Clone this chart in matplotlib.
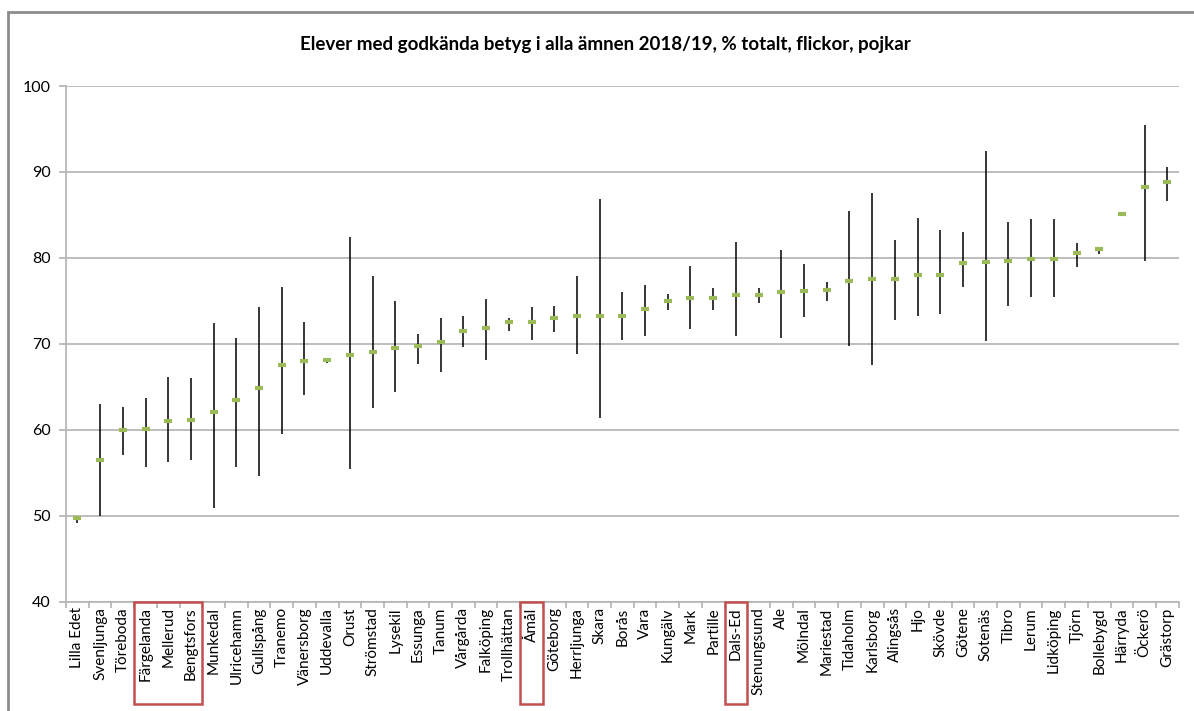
import numpy as np
import matplotlib
matplotlib.use("Agg")
from matplotlib import pyplot as plt
from matplotlib.patches import Rectangle
import matplotlib.transforms as mtransforms

plt.rcParams['font.family'] = ['Lato', 'DejaVu Sans']

kommuner = ['Lilla Edet', 'Svenljunga', 'Töreboda', 'Färgelanda', 'Mellerud', 'Bengtsfors',
            'Munkedal', 'Ulricehamn', 'Gullspång', 'Tranemo', 'Vänersborg', 'Uddevalla',
            'Orust', 'Strömstad', 'Lysekil', 'Essunga', 'Tanum', 'Vårgårda', 'Falköping',
            'Trollhättan', 'Åmål', 'Göteborg', 'Herrljunga', 'Skara', 'Borås', 'Vara',
            'Kungälv', 'Mark', 'Partille', 'Dals-Ed', 'Stenungsund', 'Ale', 'Mölndal',
            'Mariestad', 'Tidaholm', 'Karlsborg', 'Alingsås', 'Hjo', 'Skövde', 'Götene',
            'Sotenäs', 'Tibro', 'Lerum', 'Lidköping', 'Tjörn', 'Bollebygd', 'Härryda',
            'Öckerö', 'Grästorp']
totalt = [49.7, 56.5, 60.0, 60.15, 61.0, 61.1, 62.05, 63.5, 64.9, 67.6, 68.0, 68.1,
          68.7, 69.1, 69.5, 69.8, 70.2, 71.5, 71.9, 72.5, 72.6, 73.0, 73.3, 73.3, 73.3, 74.0,
          75.0, 75.3, 75.3, 75.7, 75.7, 76.0, 76.1, 76.25, 77.3, 77.5, 77.6, 78.0, 78.0, 79.4,
          79.5, 79.6, 79.9, 79.9, 80.6, 81.0, 85.15, 88.3, 88.8]
flickor = [50.0, 63.0, 62.6, 63.7, 66.1, 66.0, 72.4, 70.7, 74.3, 76.6, 72.6, 68.2,
           82.4, 77.9, 75.0, 71.1, 73.0, 73.2, 75.2, 73.0, 74.3, 74.4, 77.9, 86.9, 76.0, 76.9,
           75.85, 79.1, 76.55, 81.8, 76.45, 80.9, 79.3, 77.2, 85.5, 87.5, 82.05, 84.65, 83.3, 83.0,
           92.4, 84.2, 84.5, 84.5, 81.7, 81.3, np.nan, 95.5, 90.6]
pojkar = [49.2, 50.0, 57.1, 55.7, 56.3, 56.5, 50.9, 55.7, 54.6, 59.5, 64.1, 67.8,
          55.4, 62.5, 64.4, 67.7, 66.7, 69.6, 68.1, 71.55, 70.5, 71.4, 68.8, 61.4, 70.5, 70.9,
          73.9, 71.7, 73.9, 70.9, 74.8, 70.7, 73.1, 75.0, 69.7, 67.5, 72.8, 73.2, 73.5, 76.6,
          70.3, 74.4, 75.4, 75.4, 78.9, 80.4, np.nan, 79.7, 86.6]
markerade = ['Färgelanda', 'Mellerud', 'Bengtsfors', 'Åmål', 'Dals-Ed']

x = np.arange(len(kommuner))
fig = plt.figure(figsize=(11.94, 7.11), dpi=100)
ax = fig.add_axes([0.0553, 0.1537, 0.9319, 0.7253])

grid_c = '#b3b3b3'
ax.vlines(x, pojkar, flickor, color='black', lw=1.1, zorder=3)
ax.plot(x, totalt, ls='none', marker='_', ms=5.5, mew=3, color='#9bbb59', zorder=4)

ax.set_xlim(-0.5, len(kommuner) - 0.5)
ax.set_ylim(40, 100)
ax.set_yticks(range(40, 101, 10))
ax.yaxis.grid(True, color=grid_c, lw=1.2)
ax.set_axisbelow(True)
for s in ['top', 'right']:
    ax.spines[s].set_visible(False)
for s in ['left', 'bottom']:
    ax.spines[s].set_color(grid_c)
    ax.spines[s].set_linewidth(1.2)

ax.set_xticks(x)
ax.set_xticklabels(kommuner, rotation=90, fontsize=11)
ax.tick_params(axis='x', which='major', length=0, pad=4)
ax.set_xticks(np.arange(-0.5, len(kommuner), 1), minor=True)
ax.tick_params(axis='x', which='minor', length=4, color=grid_c, width=1.2)
ax.tick_params(axis='y', length=5, color=grid_c, width=1.2, labelsize=11.5, pad=6)

fig.text(0.507, 0.938, 'Elever med godkända betyg i alla ämnen 2018/19, % totalt, flickor, pojkar',
         ha='center', va='center', fontsize=13.5, fontweight='bold')

# ram runt diagrammet
fig.patches.append(Rectangle((8 / 1194, -0.05), 1.2, 1 - 12 / 711 + 0.05, transform=fig.transFigure,
                             fill=False, edgecolor='#8c8c8c', lw=2))

# röda markeringar
trans = mtransforms.blended_transform_factory(ax.transData, fig.transFigure)
i = 0
while i < len(kommuner):
    if kommuner[i] in markerade:
        j = i
        while j + 1 < len(kommuner) and kommuner[j + 1] in markerade:
            j += 1
        fig.patches.append(Rectangle((i - 0.5, 1 - 704 / 711), j - i + 1, (704 - 602) / 711,
                                     transform=trans, fill=False, edgecolor='#c0504d', lw=1.8))
        i = j + 1
    else:
        i += 1

fig.savefig('out.png', dpi=100)
